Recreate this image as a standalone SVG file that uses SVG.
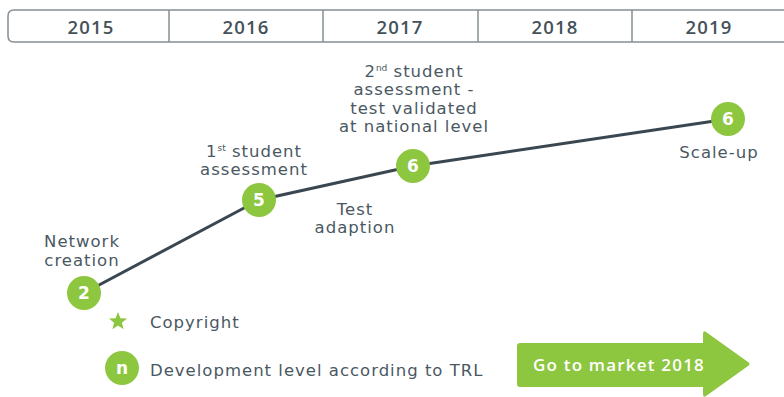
<svg xmlns="http://www.w3.org/2000/svg" width="784" height="397" viewBox="0 0 784 397">
<style>
.yr{font-family:"Open Sans","DejaVu Sans",sans-serif;font-size:18.5px;font-weight:600;letter-spacing:1.2px;fill:#44515a;text-anchor:middle}
.lb{font-family:"DejaVu Sans","Open Sans",sans-serif;font-size:16.5px;letter-spacing:1px;fill:#4a5862;text-anchor:middle}
.lg{font-family:"DejaVu Sans","Open Sans",sans-serif;font-size:16.5px;letter-spacing:1px;fill:#4a5862}
.nd{fill:#8dc63f}
.nt{font-family:"DejaVu Sans","Open Sans",sans-serif;font-size:17px;font-weight:700;fill:#fff;text-anchor:middle}
.bar{fill:#fff;stroke:#858f95;stroke-width:1.5}
</style>
<g id="timeline">
<path class="bar" d="M790 10 H14 Q8 10 8 16 V36 Q8 42 14 42 H790"/>
<line x1="169" y1="10" x2="169" y2="42" stroke="#858f95" stroke-width="1.5"/>
<line x1="323" y1="10" x2="323" y2="42" stroke="#858f95" stroke-width="1.5"/>
<line x1="478" y1="10" x2="478" y2="42" stroke="#858f95" stroke-width="1.5"/>
<line x1="632" y1="10" x2="632" y2="42" stroke="#858f95" stroke-width="1.5"/>
<text class="yr" x="91" y="34">2015</text>
<text class="yr" x="246" y="34">2016</text>
<text class="yr" x="400" y="34">2017</text>
<text class="yr" x="555" y="34">2018</text>
<text class="yr" x="709" y="34">2019</text>
</g>
<g id="connectors">
<polyline points="84,293 259,200 413,166 728,119" fill="none" stroke="#3a4750" stroke-width="3"/>
</g>
<g id="node-network">
<circle class="nd" cx="84" cy="293" r="17"/>
<text class="nt" x="84" y="299">2</text>
<text class="lb" x="82" y="247">Network</text>
<text class="lb" x="82" y="266">creation</text>
</g>
<g id="node-first">
<circle class="nd" cx="259" cy="200" r="17"/>
<text class="nt" x="259" y="206">5</text>
<text class="lb" x="254" y="157">1<tspan font-size="9" letter-spacing="0" dy="-6">st</tspan><tspan dy="6"> student</tspan></text>
<text class="lb" x="254" y="175">assessment</text>
</g>
<g id="node-adaption">
<text class="lb" x="355" y="215">Test</text>
<text class="lb" x="355" y="233">adaption</text>
</g>
<g id="node-second">
<circle class="nd" cx="413" cy="166" r="17"/>
<text class="nt" x="413" y="172">6</text>
<text class="lb" x="414" y="77">2<tspan font-size="9" letter-spacing="0" dy="-6">nd</tspan><tspan dy="6"> student</tspan></text>
<text class="lb" x="414" y="95">assessment -</text>
<text class="lb" x="414" y="114">test validated</text>
<text class="lb" x="414" y="132">at national level</text>
</g>
<g id="node-scale">
<circle class="nd" cx="728" cy="119" r="17"/>
<text class="nt" x="728" y="125">6</text>
<text class="lb" x="719" y="158">Scale-up</text>
</g>
<g id="legend">
<polygon class="nd" points="118,312 120.4,318.2 127,318.6 121.9,322.8 123.6,329.2 118,325.5 112.4,329.2 114.1,322.8 109,318.6 115.6,318.2"/>
<text class="lg" x="150" y="328">Copyright</text>
<circle class="nd" cx="122" cy="368" r="17"/>
<text class="nt" x="122" y="374">n</text>
<text class="lg" x="150" y="376">Development level according to TRL</text>
</g>
<g id="market">
<path class="nd" d="M520 343 H703 V334 Q703 330 706 332 L748 362 Q751 364 748 366 L706 396 Q703 398 703 394 V387 H520 Q517 387 517 384 V346 Q517 343 520 343 Z"/>
<text x="533" y="371" font-family="'Open Sans','DejaVu Sans',sans-serif" font-size="17" font-weight="600" letter-spacing="1.2" fill="#fff">Go to market 2018</text>
</g>
</svg>
